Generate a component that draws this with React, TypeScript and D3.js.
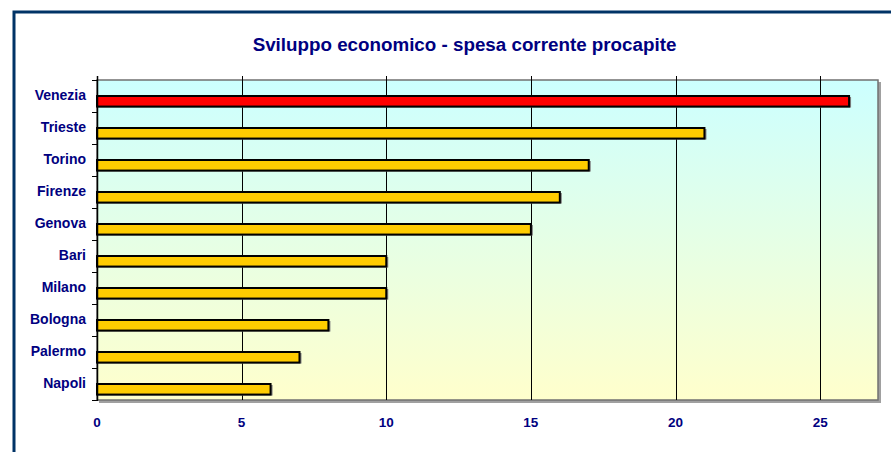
import React from "react";
import * as d3 from "d3";

const categories = ["Venezia", "Trieste", "Torino", "Firenze", "Genova", "Bari", "Milano", "Bologna", "Palermo", "Napoli"];
const values = [26, 21, 17, 16, 15, 10, 10, 8, 7, 6];
const highlight = ["Venezia"];
const xTicks = [0, 5, 10, 15, 20, 25];
const title = "Sviluppo economico - spesa corrente procapite";

const W = 891;
const H = 452;
const plot = { left: 97, right: 878, top: 80, bottom: 400 };
const navy = "#000080";
const font = "'Liberation Sans', Arial, sans-serif";

export default function App() {
  const x = d3.scaleLinear().domain([0, 27]).range([plot.left, plot.right]);
  const y = d3.scaleBand<string>().domain(categories).range([plot.top, plot.bottom]).paddingInner(0).paddingOuter(0);
  const bw = y.bandwidth();
  const barOff = bw * 0.5;
  const barH = bw * 0.33;

  return (
    <svg width={W} height={H} style={{ position: "absolute", left: 0, top: 0, background: "#fff" }} fontFamily={font}>
      <defs>
        <linearGradient id="bg" x1="0" y1="0" x2="0" y2="1">
          <stop offset="0" stopColor="#ccffff" />
          <stop offset="1" stopColor="#ffffcc" />
        </linearGradient>
      </defs>
      <rect x={0} y={0} width={W} height={H} fill="#fff" />
      {/* outer frame */}
      <rect x={14} y={12} width={W + 20} height={H + 20} fill="none" stroke="#003366" strokeWidth={3} />
      {/* title */}
      <text x={464.5} y={51} textAnchor="middle" fontSize={18.8} fontWeight="bold" fill={navy}>
        {title}
      </text>
      {/* plot area shadow + background */}
      <rect x={plot.left + 2} y={plot.top + 2} width={plot.right - plot.left + 1} height={plot.bottom - plot.top + 1} fill="#a0a0a0" />
      <rect x={plot.left} y={plot.top} width={plot.right - plot.left} height={plot.bottom - plot.top} fill="url(#bg)" stroke="#707070" strokeWidth={1.5} />
      {/* grid lines */}
      {xTicks.filter((t) => t > 0).map((t) => (
        <line key={t} x1={Math.round(x(t)) + 0.5} x2={Math.round(x(t)) + 0.5} y1={plot.top - 4} y2={plot.bottom} stroke="#000" strokeWidth={1} />
      ))}
      {/* bars */}
      {categories.map((c, i) => {
        const y0 = (y(c) as number) + barOff;
        return (
          <g key={c}>
            <rect x={x(0) + 1} y={y0 + 1} width={x(values[i]) - x(0) + 1} height={barH} fill="#808080" />
            <rect x={x(0)} y={y0} width={x(values[i]) - x(0)} height={barH} fill={highlight.includes(c) ? "#ff0000" : "#ffcc00"} stroke="#000" strokeWidth={2} />
          </g>
        );
      })}
      {/* y axis */}
      <line x1={plot.left + 0.5} x2={plot.left + 0.5} y1={plot.top - 4} y2={plot.bottom + 1} stroke="#000" strokeWidth={1.5} />
      {[...categories.map((c) => y(c) as number), plot.bottom].map((v, i) => (
        <line key={i} x1={plot.left - 5} x2={plot.left} y1={Math.round(v) + 0.5} y2={Math.round(v) + 0.5} stroke="#000" strokeWidth={1} />
      ))}
      {categories.map((c) => (
        <text key={c} x={86} y={(y(c) as number) + bw / 2 - 1} dy="0.35em" textAnchor="end" fontSize={14} fontWeight="bold" fill={navy}>
          {c}
        </text>
      ))}
      {/* x tick labels */}
      {xTicks.map((t) => (
        <text key={t} x={x(t)} y={422} dy="0.35em" textAnchor="middle" fontSize={13.5} fontWeight="bold" fill={navy}>
          {t}
        </text>
      ))}
    </svg>
  );
}
